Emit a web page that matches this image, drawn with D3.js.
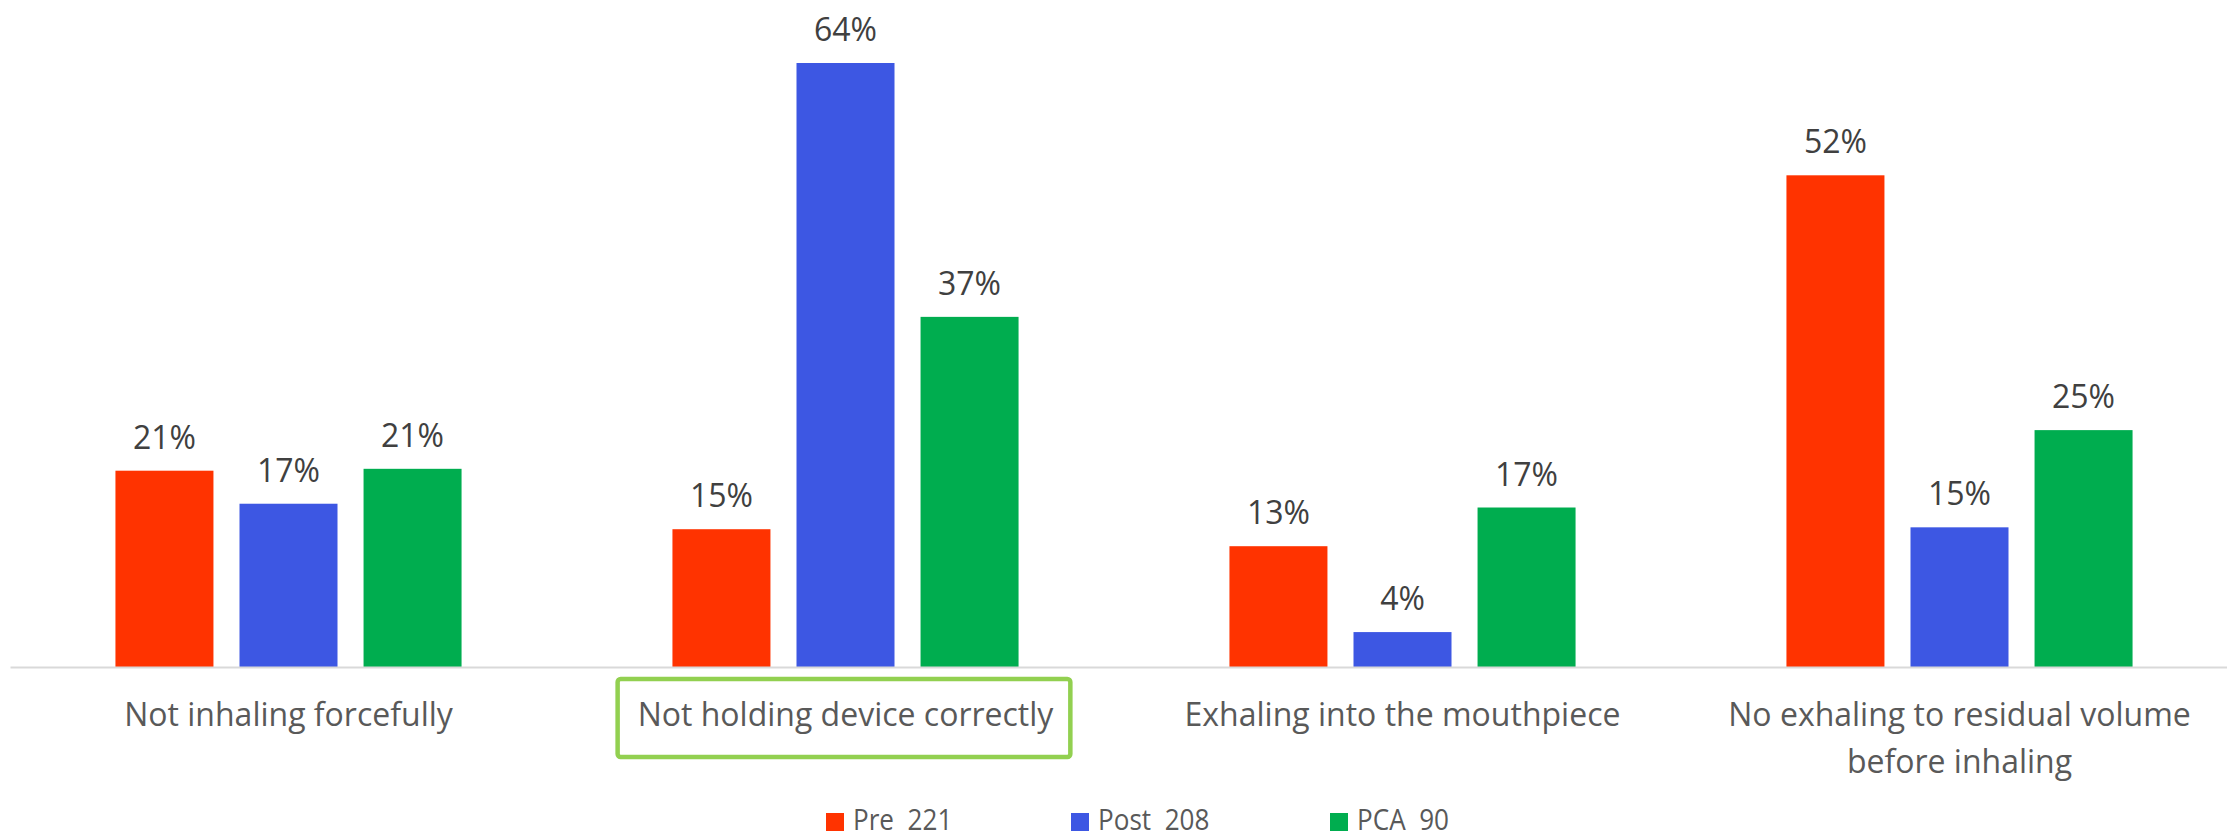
<!DOCTYPE html>
<html>
<head>
<meta charset="utf-8">
<script src="https://cdn.jsdelivr.net/npm/d3@7"></script>
<style>
  body { margin: 0; background: #fff; }
  svg { display: block; font-family: "Open Sans", sans-serif; }
</style>
</head>
<body>
<svg id="chart"></svg>
<script>
// data (percent)
const categories = ["Not inhaling forcefully", "Not holding device correctly", "Exhaling into the mouthpiece", "No exhaling to residual volume before inhaling"];
const seriesNames = ["Pre  221", "Post  208", "PCA  90"];
const preValues = [20.8, 14.6, 12.8, 52.1];
const postValues = [17.3, 64.0, 3.7, 14.8];
const pcaValues = [21.0, 37.1, 16.9, 25.1];
const colors = ["#ff3300", "#3d57e3", "#00ad4f"];
const highlighted = "Not holding device correctly";

const W = 2227, H = 839;
const baseY = 667;

const svg = d3.select("#chart").attr("width", W).attr("height", H);

const table = categories.map((c, i) => ({
  cat: c,
  vals: [preValues[i], postValues[i], pcaValues[i]]
}));

const x0 = d3.scaleBand().domain(categories).range([10, 2238]).padding(0);
const x1 = d3.scaleBand().domain(d3.range(3)).range([0, x0.bandwidth()])
  .paddingInner(0.21).paddingOuter(0.85);
const y = d3.scaleLinear().domain([0, 70]).range([baseY, baseY - 9.4375 * 70]);

// bars
const groups = svg.append("g").selectAll("g")
  .data(table)
  .join("g")
  .attr("transform", d => `translate(${x0(d.cat)},0)`);

groups.selectAll("rect")
  .data(d => d.vals)
  .join("rect")
  .attr("x", (d, i) => x1(i))
  .attr("y", d => y(d))
  .attr("width", x1.bandwidth())
  .attr("height", d => baseY - y(d))
  .attr("fill", (d, i) => colors[i]);

groups.selectAll("text")
  .data(d => d.vals)
  .join("text")
  .attr("x", (d, i) => x1(i) + x1.bandwidth() / 2)
  .attr("y", d => y(d) - 22)
  .attr("text-anchor", "middle")
  .attr("font-size", 32)
  .attr("fill", "#404040")
  .text(d => Math.round(d) + "%");

// category axis
const xAxis = d3.axisBottom(x0).tickSize(0).tickPadding(0);
const axisG = svg.append("g")
  .attr("transform", `translate(0,${baseY})`)
  .call(xAxis);
axisG.select(".domain").attr("stroke", "#d9d9d9").attr("stroke-width", 2);
axisG.selectAll(".tick text")
  .attr("font-size", 32)
  .attr("font-family", "Open Sans, sans-serif")
  .attr("fill", "#595959")
  .attr("dy", null)
  .attr("y", 59)
  .each(function(d) { wrap(d3.select(this), d, 500); });

function wrap(text, str, maxW) {
  const words = str.split(" ");
  text.text(null);
  let line = [];
  let lineNo = 0;
  let tspan = text.append("tspan").attr("x", 0).attr("y", 59);
  for (const w of words) {
    line.push(w);
    tspan.text(line.join(" "));
    if (tspan.node().getComputedTextLength() > maxW && line.length > 1) {
      line.pop();
      tspan.text(line.join(" "));
      line = [w];
      lineNo++;
      tspan = text.append("tspan").attr("x", 0).attr("y", 59 + lineNo * 47).text(w);
    }
  }
}

// highlight box round one category label
axisG.selectAll(".tick").filter(d => d === highlighted).each(function() {
  const bb = d3.select(this).select("text").node().getBBox();
  d3.select(this).insert("rect", "text")
    .attr("x", bb.x - 20)
    .attr("y", 12)
    .attr("width", bb.width + 36)
    .attr("height", 78)
    .attr("rx", 3)
    .attr("fill", "none")
    .attr("stroke", "#92d050")
    .attr("stroke-width", 4.5);
});

// legend
const legendX = [826, 1071, 1330];
const legend = svg.append("g").selectAll("g")
  .data(seriesNames)
  .join("g")
  .attr("transform", (d, i) => `translate(${legendX[i]},813)`);
legend.append("rect")
  .attr("width", 18).attr("height", 18)
  .attr("fill", (d, i) => colors[i]);
legend.append("text")
  .attr("transform", "translate(27,17) scale(0.9,1)")
  .attr("font-size", 29)
  .attr("fill", "#595959")
  .style("white-space", "pre")
  .text(d => d);
</script>
</body>
</html>
